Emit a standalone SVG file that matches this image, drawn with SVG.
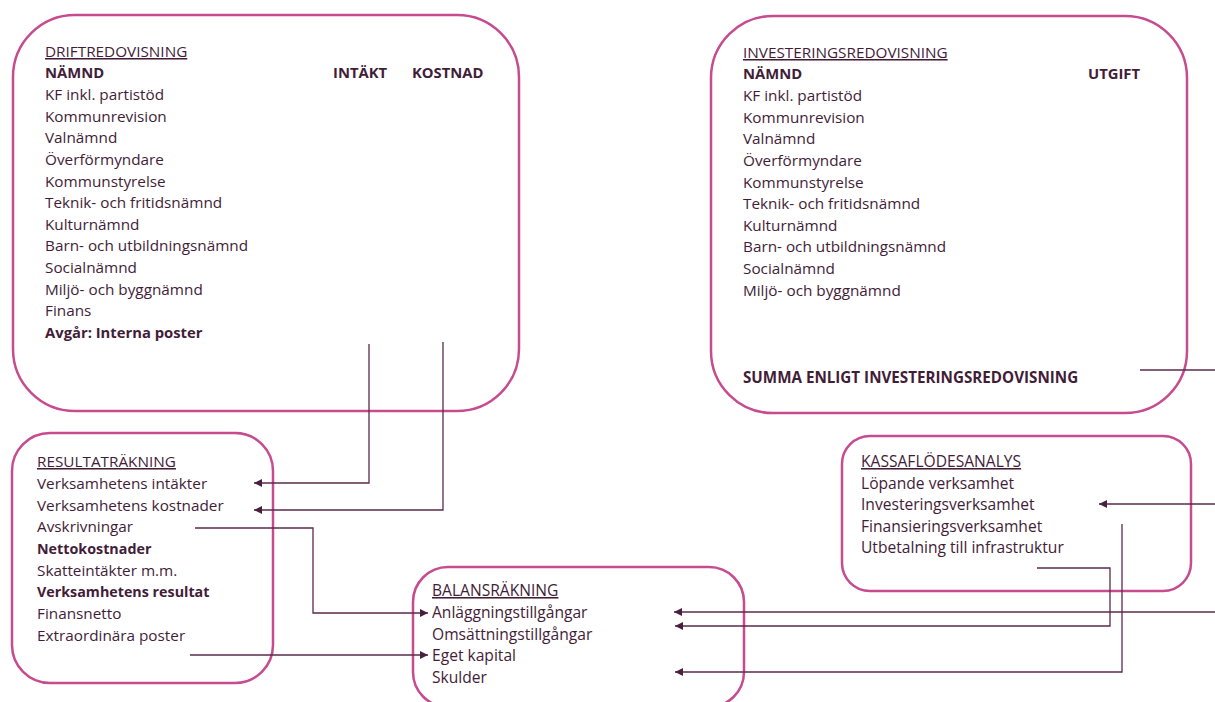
<svg xmlns="http://www.w3.org/2000/svg" width="1215" height="702" viewBox="0 0 1215 702">
<defs>
<style>
.box{fill:none;stroke:#c64b8f;stroke-width:2.5}
.t{font-family:"Open Sans","Liberation Sans",sans-serif;font-size:15.3px;fill:#421d38}
.s{font-size:15.6px}
.b{font-weight:bold;font-size:14.8px}
.bs{font-weight:bold;font-size:14.3px}
.u{text-decoration:underline}
.c{fill:none;stroke:#5b2a4b;stroke-width:1.3}
</style>
<marker id="ah" viewBox="0 0 10 10" refX="10" refY="5" markerWidth="9" markerHeight="8" markerUnits="userSpaceOnUse" orient="auto">
<path d="M0,0 L10,5 L0,10 z" fill="#4a1f3d"/>
</marker>
</defs>
<rect width="1215" height="702" fill="#ffffff"/>

<g id="driftredovisning">
<rect class="box" x="13" y="15" width="506" height="396" rx="62"/>
<text class="t u" x="45" y="57">DRIFTREDOVISNING</text>
<text class="t b" x="45" y="78">NÄMND</text>
<text class="t b" x="333" y="78">INTÄKT</text>
<text class="t b" x="412" y="78">KOSTNAD</text>
<text class="t" x="45" y="100">KF inkl. partistöd</text>
<text class="t" x="45" y="121.5">Kommunrevision</text>
<text class="t" x="45" y="143">Valnämnd</text>
<text class="t" x="45" y="165">Överförmyndare</text>
<text class="t" x="45" y="186.5">Kommunstyrelse</text>
<text class="t" x="45" y="208">Teknik- och fritidsnämnd</text>
<text class="t" x="45" y="229.5">Kulturnämnd</text>
<text class="t" x="45" y="251">Barn- och utbildningsnämnd</text>
<text class="t" x="45" y="273">Socialnämnd</text>
<text class="t" x="45" y="294.5">Miljö- och byggnämnd</text>
<text class="t" x="45" y="316">Finans</text>
<text class="t b" x="45" y="338">Avgår: Interna poster</text>
</g>

<g id="investeringsredovisning">
<rect class="box" x="711" y="16" width="476" height="397" rx="62"/>
<text class="t u" x="743" y="58">INVESTERINGSREDOVISNING</text>
<text class="t b" x="743" y="79">NÄMND</text>
<text class="t b" x="1088" y="79">UTGIFT</text>
<text class="t" x="743" y="101">KF inkl. partistöd</text>
<text class="t" x="743" y="122.5">Kommunrevision</text>
<text class="t" x="743" y="144">Valnämnd</text>
<text class="t" x="743" y="166">Överförmyndare</text>
<text class="t" x="743" y="187.5">Kommunstyrelse</text>
<text class="t" x="743" y="209">Teknik- och fritidsnämnd</text>
<text class="t" x="743" y="230.5">Kulturnämnd</text>
<text class="t" x="743" y="252">Barn- och utbildningsnämnd</text>
<text class="t" x="743" y="274">Socialnämnd</text>
<text class="t" x="743" y="295.5">Miljö- och byggnämnd</text>
<text class="t b" x="743" y="383" style="font-size:15.2px">SUMMA ENLIGT INVESTERINGSREDOVISNING</text>
</g>

<g id="resultatrakning">
<rect class="box" x="12" y="433" width="261" height="250" rx="38"/>
<text class="t u" x="37" y="467">RESULTATRÄKNING</text>
<text class="t" x="37" y="489">Verksamhetens intäkter</text>
<text class="t" x="37" y="510.5">Verksamhetens kostnader</text>
<text class="t" x="37" y="532">Avskrivningar</text>
<text class="t bs" x="37" y="554">Nettokostnader</text>
<text class="t" x="37" y="575.5">Skatteintäkter m.m.</text>
<text class="t bs" x="37" y="597">Verksamhetens resultat</text>
<text class="t" x="37" y="619">Finansnetto</text>
<text class="t" x="37" y="640.5">Extraordinära poster</text>
</g>

<g id="balansrakning">
<rect class="box" x="413" y="567" width="331" height="140" rx="35"/>
<text class="t s u" x="432" y="596">BALANSRÄKNING</text>
<text class="t s" x="432" y="618">Anläggningstillgångar</text>
<text class="t s" x="432" y="639.5">Omsättningstillgångar</text>
<text class="t s" x="432" y="661">Eget kapital</text>
<text class="t s" x="432" y="683">Skulder</text>
</g>

<g id="kassaflodesanalys">
<rect class="box" x="842" y="436" width="349" height="155" rx="28"/>
<text class="t s u" x="861" y="467">KASSAFLÖDESANALYS</text>
<text class="t s" x="861" y="489">Löpande verksamhet</text>
<text class="t s" x="861" y="510">Investeringsverksamhet</text>
<text class="t s" x="861" y="532">Finansieringsverksamhet</text>
<text class="t s" x="861" y="553">Utbetalning till infrastruktur</text>
</g>

<g id="connectors">
<path class="c" d="M369,344 V483 H254" marker-end="url(#ah)"/>
<path class="c" d="M443,342 V510 H254" marker-end="url(#ah)"/>
<path class="c" d="M195,528 H313 V613 H428" marker-end="url(#ah)"/>
<path class="c" d="M190,655 H428" marker-end="url(#ah)"/>
<path class="c" d="M1215,612 H674" marker-end="url(#ah)"/>
<path class="c" d="M1037,568 H1110 V626 H675" marker-end="url(#ah)"/>
<path class="c" d="M1122,524 V672 H675" marker-end="url(#ah)"/>
<path class="c" d="M1215,504 H1099" marker-end="url(#ah)"/>
<path class="c" d="M1140,370 H1215"/>
</g>
</svg>
